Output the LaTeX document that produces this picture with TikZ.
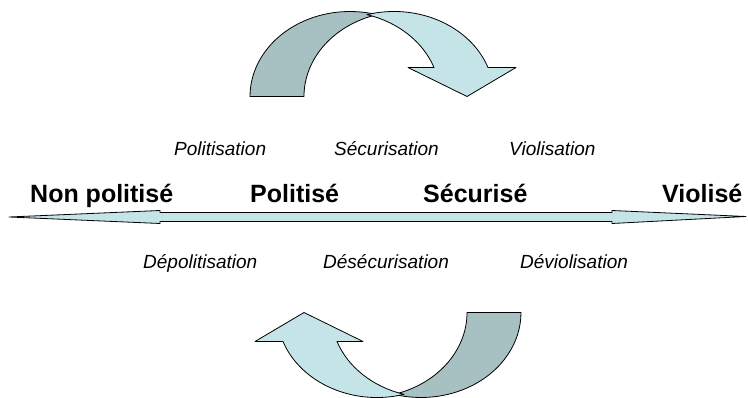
\documentclass[tikz,border=0pt]{standalone}
\usepackage{fontspec}
\setmainfont{Liberation Sans}
\definecolor{lightband}{HTML}{C4E4E7}
\definecolor{darkband}{HTML}{A7C0C2}
\tikzset{
  band/.style={draw=black, line width=0.8pt, line join=round},
  statelabel/.style={font=\fontsize{25}{30}\selectfont\bfseries, inner sep=0pt, anchor=base west},
  proclabel/.style={font=\fontsize{19}{23}\selectfont\itshape, inner sep=0pt, anchor=base west},
  ell/.style={x radius=100pt, y radius=85pt},
}
\newcommand{\curvedband}{%
  \path[band, fill=darkband] (250,96.5)
    arc[start angle=180, end angle=74.34, ell]
    arc[start angle=105.66, end angle=180, ell] -- cycle;
  \path[band, fill=lightband] (367,14.65)
    arc[start angle=105.66, end angle=19.95, ell]
    -- (516,67.5) -- (467,96.5) -- (408,67.5) -- (434,67.5)
    arc[start angle=19.95, end angle=74.34, ell] -- cycle;
}
\begin{document}
\begin{tikzpicture}[x=1pt, y=-1pt]
  \useasboundingbox (0,0) rectangle (748,398);
  % top curved arrow
  \begin{scope}
    \curvedband
  \end{scope}
  % bottom curved arrow (rotated copy)
  \begin{scope}[shift={(771,409)}, rotate=180]
    \curvedband
  \end{scope}
  % horizontal double arrow
  \path[band, fill=lightband] (9,217) -- (160,210.5) -- (160,212.5) -- (612,212.5)
    -- (612,210.5) -- (746,216.5) -- (612,223.5) -- (612,221.5) -- (160,221.5)
    -- (160,223.5) -- cycle;
  % state labels
  \node[statelabel] (nonpol) at (30,203) {Non politisé};
  \node[statelabel] (pol) at (250,203) {Politisé};
  \node[statelabel] (sec) at (423,203) {Sécurisé};
  \node[statelabel] (viol) at (662,203) {Violisé};
  % process labels
  \node[proclabel] (politisation) at (174,156) {Politisation};
  \node[proclabel] (securisation) at (334,156) {Sécurisation};
  \node[proclabel] (violisation) at (509,156) {Violisation};
  \node[proclabel] (depolitisation) at (143,269) {Dépolitisation};
  \node[proclabel] (desecurisation) at (323,269) {Désécurisation};
  \node[proclabel] (deviolisation) at (520,269) {Déviolisation};
\end{tikzpicture}
\end{document}
